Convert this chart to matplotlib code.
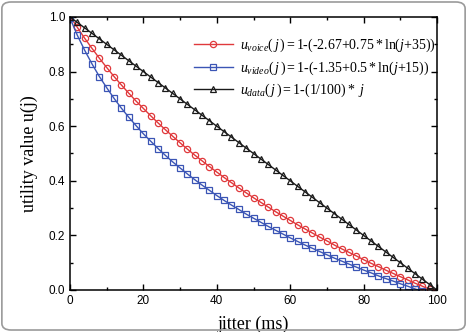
import matplotlib
matplotlib.use("Agg")
import matplotlib.pyplot as plt
from matplotlib.patches import FancyBboxPatch
from matplotlib.ticker import MultipleLocator, FormatStrFormatter

plt.rcParams['mathtext.fontset'] = 'custom'
plt.rcParams['mathtext.rm'] = 'Liberation Serif'
plt.rcParams['mathtext.it'] = 'Liberation Serif:italic'

jitter = list(range(0, 101, 2))

u_voice = [1.003, 0.962, 0.922, 0.885, 0.849, 0.815, 0.782, 0.751, 0.721, 0.692,
           0.665, 0.638, 0.612, 0.587, 0.563, 0.539, 0.516, 0.494, 0.473, 0.452,
           0.432, 0.412, 0.393, 0.374, 0.356, 0.338, 0.321, 0.304, 0.287, 0.271,
           0.255, 0.239, 0.224, 0.209, 0.194, 0.180, 0.165, 0.151, 0.138, 0.125,
           0.111, 0.098, 0.086, 0.073, 0.061, 0.049, 0.037, 0.025, 0.014, 0.002,
           -0.009]

u_video = [0.996, 0.933, 0.878, 0.828, 0.782, 0.741, 0.702, 0.666, 0.633, 0.602,
           0.572, 0.545, 0.518, 0.493, 0.469, 0.447, 0.425, 0.404, 0.384, 0.365,
           0.346, 0.328, 0.311, 0.295, 0.278, 0.263, 0.248, 0.233, 0.219, 0.205,
           0.191, 0.178, 0.165, 0.153, 0.141, 0.129, 0.117, 0.106, 0.095, 0.084,
           0.073, 0.063, 0.052, 0.042, 0.033, 0.023, 0.014, 0.004, -0.005, -0.014,
           -0.022]

u_data = [1.00, 0.98, 0.96, 0.94, 0.92, 0.90, 0.88, 0.86, 0.84, 0.82,
          0.80, 0.78, 0.76, 0.74, 0.72, 0.70, 0.68, 0.66, 0.64, 0.62,
          0.60, 0.58, 0.56, 0.54, 0.52, 0.50, 0.48, 0.46, 0.44, 0.42,
          0.40, 0.38, 0.36, 0.34, 0.32, 0.30, 0.28, 0.26, 0.24, 0.22,
          0.20, 0.18, 0.16, 0.14, 0.12, 0.10, 0.08, 0.06, 0.04, 0.02,
          0.00]

labels = [r'$u_{voice}(\,j\,)=\mathrm{1\text{-}(\text{-}2.67{+}0.75*ln(}j\mathrm{{+}35))}$',
          r'$u_{video}(\,j\,)=\mathrm{1\text{-}(\text{-}1.35{+}0.5*ln(}j\mathrm{{+}15))}$',
          r'$u_{data}(\,j\,)=\mathrm{1\text{-}(1/100)*}\ j$']

fig = plt.figure(figsize=(4.67, 3.32), dpi=100)
ax = fig.add_axes([70/467, 1 - 290/332, 367/467, 273/332])

ax.plot(jitter, u_voice, color='#e0393c', lw=1, marker='o', ms=4.5,
        mfc='none', mew=0.9, label=labels[0])
ax.plot(jitter, u_video, color='#3b55b5', lw=1, marker='s', ms=4.2,
        mfc='none', mew=0.9, label=labels[1])
ax.plot(jitter, u_data, color='#1a1a1a', lw=1, marker='^', ms=4.8,
        mfc='none', mew=0.9, label=labels[2])

ax.set_xlim(0, 100)
ax.set_ylim(0, 1.0)
ax.xaxis.set_major_locator(MultipleLocator(20))
ax.xaxis.set_minor_locator(MultipleLocator(10))
ax.yaxis.set_major_locator(MultipleLocator(0.2))
ax.yaxis.set_minor_locator(MultipleLocator(0.1))
ax.yaxis.set_major_formatter(FormatStrFormatter('%.1f'))
ax.tick_params(which='both', direction='in', top=True, right=True, width=1)
ax.tick_params(which='major', length=4, labelsize=8.5)
ax.tick_params(which='minor', length=2)
for t in ax.get_xticklabels() + ax.get_yticklabels():
    t.set_family('Liberation Sans')
for s in ax.spines.values():
    s.set_linewidth(1.1)

ax.set_xlabel('jitter (ms)', family='Liberation Serif', fontsize=13, labelpad=6)
ax.set_ylabel('utility value u(j)', family='Liberation Serif', fontsize=13, labelpad=8)

ax.legend(loc='upper right', bbox_to_anchor=(1.03, 0.975), frameon=False,
          fontsize=10, handlelength=2.8, handletextpad=0.5, labelspacing=0.4)

fig.patches.append(FancyBboxPatch((0.004, 0.006), 0.992, 0.988,
                                  boxstyle='round,pad=0,rounding_size=0.02',
                                  transform=fig.transFigure, fill=False,
                                  ec='#9a9a9a', lw=1.2))

fig.savefig('out.png', dpi=100)
